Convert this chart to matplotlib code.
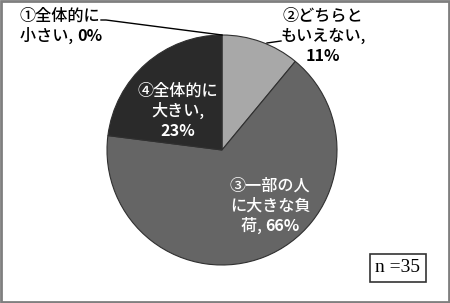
import numpy as np
import matplotlib
matplotlib.use("Agg")
import matplotlib.pyplot as plt
from matplotlib.patches import Rectangle
from matplotlib.offsetbox import TextArea, HPacker, AnnotationBbox

plt.rcParams['font.family'] = ['Noto Sans CJK JP', 'DejaVu Sans']

# ── Data ───────────────────────────────────────────────────────────────────
answers = ["①全体的に小さい", "②どちらともいえない", "③一部の人に大きな負荷", "④全体的に大きい"]
shares = [0, 11, 66, 23]
colors = ["#ffffff", "#a8a8a8", "#656565", "#2a2a2a"]
n_total = 35

# how the reference wraps each label: list of lines, the % goes after the last one
label_lines = [
    ["①全体的に", "小さい, "],
    ["②どちらと", "もいえない,", ""],
    ["③一部の人", "に大きな負", "荷, "],
    ["④全体的に", "大きい,", ""],
]

# ── Figure ─────────────────────────────────────────────────────────────────
W, H, DPI = 450, 303, 100
fig = plt.figure(figsize=(W / DPI, H / DPI), dpi=DPI)
ax = fig.add_axes([0, 0, 1, 1])

cx, cy, r = 222, 150, 115          # pie centre / radius in pixels

wedges, _ = ax.pie(shares, colors=colors, startangle=90, counterclock=False,
                   radius=1, center=(0, 0), frame=True,
                   wedgeprops=dict(edgecolor="#303030", linewidth=0.8))
ax.set_xlim(-cx / r, (W - cx) / r)
ax.set_ylim(-(H - cy) / r, cy / r)
ax.set_aspect("auto")
ax.axis("off")


def px(x, y):
    """pixel position (from top-left) -> data coords"""
    return (x - cx) / r, (cy - y) / r


FS = 11.6


def put_line(x, y, text, pct, color, align):
    """one label line: normal text followed by an optional bold percentage"""
    parts = []
    if text:
        parts.append(TextArea(text, textprops=dict(fontsize=FS, color=color,
                                                   fontweight="medium")))
    if pct:
        parts.append(TextArea(pct, textprops=dict(fontsize=FS, color=color,
                                                  fontweight="bold")))
    box = HPacker(children=parts, pad=0, sep=0, align="baseline")
    ab = AnnotationBbox(box, px(x, y), frameon=False, pad=0,
                        box_alignment=(0.0 if align == "left" else 0.5, 0.5))
    ax.add_artist(ab)


def put_label(i, x, ys, color, align="center"):
    lines = label_lines[i]
    pct = f"{shares[i]}%"
    for k, (line, y) in enumerate(zip(lines, ys)):
        last = k == len(lines) - 1
        put_line(x, y, line, pct if last else "", color, align)


put_label(0, 20, [16, 36], "black", align="left")
put_label(1, 323, [16, 36, 56], "black")
put_label(2, 270, [186, 206, 226], "white")
put_label(3, 178, [91, 111, 131], "white")

# leader for ① to the zero-size wedge at the top
t1 = np.deg2rad(wedges[0].theta1)
tip = (np.cos(t1), np.sin(t1))
a, b = px(101, 20), px(106, 20)
ax.plot([a[0], b[0], tip[0]], [a[1], b[1], tip[1]], color="black", lw=1)

# short leader for ②
a, b = px(267, 43), px(281, 41)
ax.plot([a[0], b[0]], [a[1], b[1]], color="black", lw=1)

# n box
ax.text(*px(398, 268), f"n ={n_total}", fontsize=14, family="Liberation Serif",
        ha="center", va="center",
        bbox=dict(boxstyle="square,pad=0.3", fc="white", ec="#333333", lw=1.2))

# outer frame
fig.patches.append(Rectangle((0.002, 0.003), 0.995, 0.993, transform=fig.transFigure,
                             fill=False, ec="#7f7f7f", lw=2))

fig.savefig("out.png", dpi=DPI)
